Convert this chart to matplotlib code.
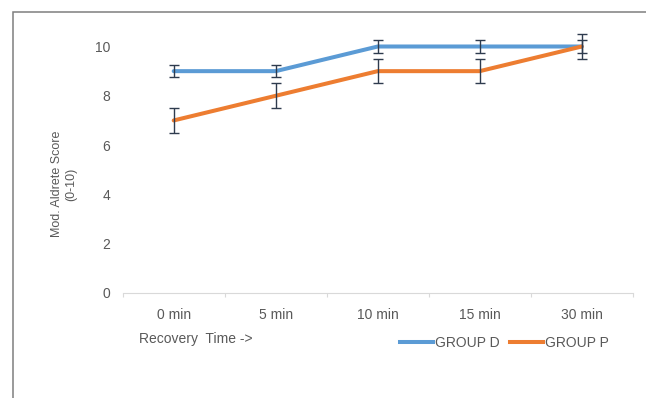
import numpy as np
import matplotlib
matplotlib.use("Agg")
from matplotlib import pyplot as plt
from matplotlib.patches import Rectangle
from matplotlib.lines import Line2D

plt.rcParams['font.family'] = ['Liberation Sans', 'DejaVu Sans']

times = ["0 min", "5 min", "10 min", "15 min", "30 min"]
group_d = [9, 9, 10, 10, 10]
group_d_err = [0.25, 0.25, 0.25, 0.25, 0.25]
group_p = [7, 8, 9, 9, 10]
group_p_err = [0.5, 0.5, 0.5, 0.5, 0.5]

W, H = 646, 398
fig = plt.figure(figsize=(W / 100, H / 100), dpi=100)
txt = '#595959'
blue, orange, err = '#5B9BD5', '#ED7D31', '#2E3B4E'

# plot area in pixel terms
x0, x1 = 122.7, 632.7
ybot, ytop = 293, 46.5
ax = fig.add_axes([x0 / W, 1 - ybot / H, (x1 - x0) / W, (ybot - ytop) / H])

x = np.arange(len(times))
ax.plot(x, group_d, color=blue, lw=2.9, solid_capstyle='round', zorder=2, clip_on=False)
ax.plot(x, group_p, color=orange, lw=2.9, solid_capstyle='round', zorder=2, clip_on=False)
ax.errorbar(x, group_d, yerr=group_d_err, fmt='none', ecolor=err,
            elinewidth=1.0, capsize=3.5, capthick=1.0, zorder=3, clip_on=False)
ax.errorbar(x, group_p, yerr=group_p_err, fmt='none', ecolor=err,
            elinewidth=1.0, capsize=3.5, capthick=1.0, zorder=3, clip_on=False)

ax.set_xlim(-0.5, len(times) - 0.5)
ax.set_ylim(0, 10)
ax.set_yticks([0, 2, 4, 6, 8, 10])
ax.set_xticks(x)
ax.set_xticklabels(times)
ax.set_xticks(np.arange(-0.5, len(times)), minor=True)
ax.tick_params(axis='y', length=0, pad=9, labelsize=10, labelcolor=txt)
ax.tick_params(axis='x', which='major', length=0, pad=11, labelsize=10, labelcolor=txt)
ax.tick_params(axis='x', which='minor', length=3, width=0.8, color='#D9D9D9')
for s in ['top', 'right', 'left']:
    ax.spines[s].set_visible(False)
ax.spines['bottom'].set_color('#D9D9D9')
ax.spines['bottom'].set_linewidth(0.8)

fig.text(64 / W, 1 - 184 / H, "Mod. Aldrete Score\n(0-10)", rotation=90,
         ha='center', va='center', multialignment='center', fontsize=9, color=txt)
fig.text(139 / W, 1 - 339 / H, "Recovery  Time ->", ha='left', va='center',
         fontsize=10, color=txt)

handles = [Line2D([], [], color=blue, lw=2.9), Line2D([], [], color=orange, lw=2.9)]
fig.legend(handles, ["GROUP D", "GROUP P"], loc='center left',
           bbox_to_anchor=(400 / W, 1 - 343 / H), ncol=2, frameon=False,
           fontsize=10, labelcolor=txt, handlelength=2.35, handletextpad=0.15,
           columnspacing=0.8, borderpad=0, borderaxespad=0)

# outer chart border, running off the right and bottom edges
fig.add_artist(Rectangle((12.5 / W, -0.2), 1.2, 0.2 + (1 - 12 / H),
                         transform=fig.transFigure, fill=False,
                         edgecolor='#7F7F7F', lw=1.1, clip_on=False))

fig.savefig("out.png", dpi=100)
